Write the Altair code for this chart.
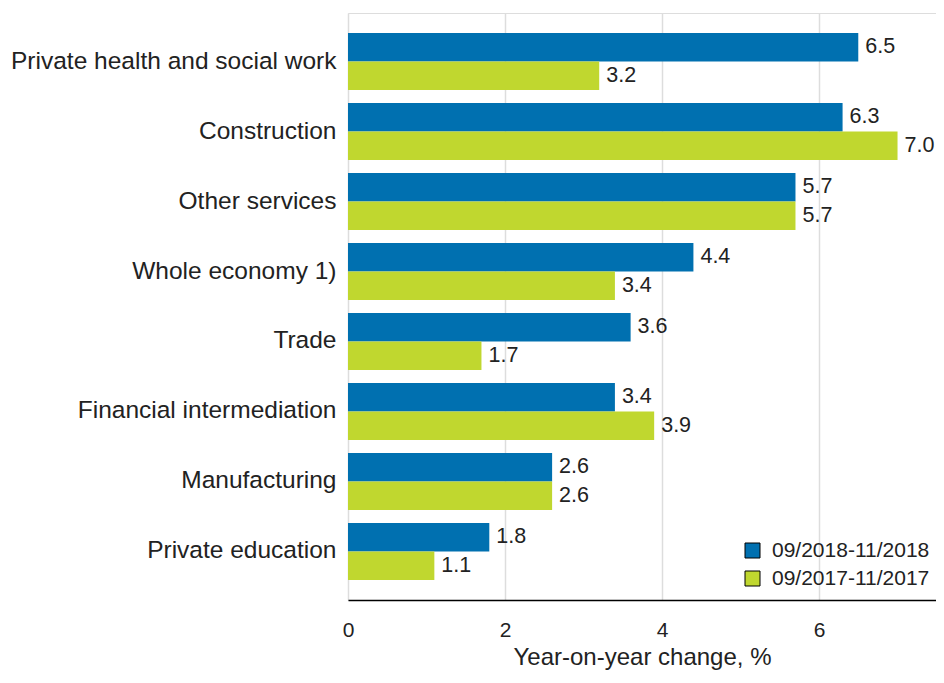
import altair as alt
import pandas as pd

categories = [
    "Private health and social work",
    "Construction",
    "Other services",
    "Whole economy 1)",
    "Trade",
    "Financial intermediation",
    "Manufacturing",
    "Private education",
]
series_names = ["09/2018-11/2018", "09/2017-11/2017"]
values_2018 = [6.5, 6.3, 5.7, 4.4, 3.6, 3.4, 2.6, 1.8]
values_2017 = [3.2, 7.0, 5.7, 3.4, 1.7, 3.9, 2.6, 1.1]
colors = ["#0070b0", "#c0d72f"]
x_ticks = [0, 2, 4, 6]

rows = []
for c, a, b in zip(categories, values_2018, values_2017):
    rows.append({"category": c, "series": series_names[0], "value": a})
    rows.append({"category": c, "series": series_names[1], "value": b})
df = pd.DataFrame(rows)

FONT = "Liberation Sans"
TXT = "#222222"

y_enc = alt.Y(
    "category:N",
    sort=categories,
    scale=alt.Scale(paddingInner=0.186, paddingOuter=0.286),
    axis=alt.Axis(
        title=None,
        labelFontSize=24.5,
        labelPadding=12,
        ticks=False,
        tickSize=0,
        domain=False,
        grid=False,
        labelColor=TXT,
        labelLimit=400,
        labelFont=FONT,
    ),
)
x_enc = alt.X(
    "value:Q",
    scale=alt.Scale(domain=[0, 7.49], nice=False),
    axis=alt.Axis(
        values=x_ticks,
        format="d",
        labelFlush=False,
        title="Year-on-year change, %",
        titleFontSize=24,
        titleFontWeight="normal",
        titleColor=TXT,
        titleFont=FONT,
        titlePadding=5,
        labelFontSize=21,
        labelColor=TXT,
        labelFont=FONT,
        labelPadding=19,
        ticks=False,
        tickSize=0,
        domainColor="#000000",
        domainWidth=1.5,
        gridColor="#dddddd",
        gridWidth=1.5,
    ),
)
yoff = alt.YOffset("series:N", sort=series_names)

bars = alt.Chart(df).mark_bar().encode(
    y=y_enc,
    x=x_enc,
    yOffset=yoff,
    color=alt.Color(
        "series:N",
        sort=series_names,
        scale=alt.Scale(domain=series_names, range=colors),
        legend=alt.Legend(
            title=None,
            orient="none",
            legendX=394,
            legendY=527,
            symbolType="square",
            symbolSize=225,
            symbolStrokeColor="#000000",
            symbolStrokeWidth=1,
            symbolOpacity=1,
            labelFontSize=21,
            labelFont=FONT,
            labelColor=TXT,
            labelLimit=300,
            labelOffset=9,
            rowPadding=6,
            padding=0,
        ),
    ),
)

labels = alt.Chart(df).mark_text(
    align="left", baseline="middle", dx=7, fontSize=21.5, font=FONT, color=TXT
).encode(
    y=alt.Y("category:N", sort=categories),
    x=alt.X("value:Q"),
    yOffset=yoff,
    text=alt.Text("value:Q", format=".1f"),
)

chart = (
    alt.layer(bars, labels)
    .properties(
        width=588,
        height=587,
        autosize=alt.AutoSizeParams(type="none"),
        padding={"left": 340, "top": 5, "right": 0, "bottom": 72},
    )
    .configure_view(stroke=None)
    .configure(font=FONT)
)

chart.save("out.html", embed_options={"renderer": "svg", "actions": False})
